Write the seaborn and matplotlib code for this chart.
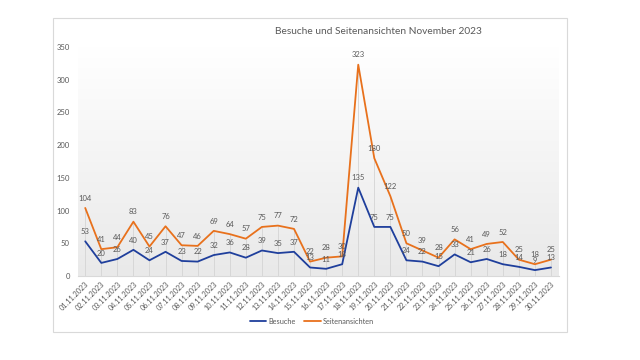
import matplotlib
matplotlib.use("Agg")
import matplotlib.pyplot as plt
import numpy as np
import pandas as pd
import seaborn as sns
from matplotlib.patches import Rectangle
from matplotlib.lines import Line2D

dates = [f"{d:02d}.11.2023" for d in range(1, 31)]
besuche = [53, 20, 26, 40, 24, 37, 23, 22, 32, 36, 28, 39, 35, 37, 13,
           11, 18, 135, 75, 75, 24, 22, 15, 33, 21, 26, 18, 14, 9, 13]
seiten = [104, 41, 44, 83, 45, 76, 47, 46, 69, 64, 57, 75, 77, 72, 22,
          28, 30, 323, 180, 122, 50, 39, 28, 56, 41, 49, 52, 25, 18, 25]
series_names = ["Besuche", "Seitenansichten"]
colors = ["#1f3f9c", "#e8711c"]

df = pd.DataFrame({
    "x": list(range(len(dates))) * 2,
    "wert": besuche + seiten,
    "serie": [series_names[0]] * len(dates) + [series_names[1]] * len(dates),
})

sns.set_style("white")
plt.rcParams["font.family"] = ["Lato", "DejaVu Sans"]

fig = plt.figure(figsize=(6.4, 3.6), dpi=100)
fig.patch.set_facecolor("white")

# outer chart frame
fig.patches.append(Rectangle((53 / 640, 1 - 332 / 360), 514 / 640, 314 / 360,
                             transform=fig.transFigure, fill=False,
                             edgecolor="#d9d9d9", linewidth=0.8))

ax = fig.add_axes([78 / 640, 1 - 276 / 360, 481 / 640, 229 / 360])
ax.set_xlim(-0.45, len(dates) - 0.5)
ax.set_ylim(0, 350)

# gradient background of plot area
grad = np.linspace(0, 1, 256).reshape(-1, 1)
ax.imshow(grad, extent=[-0.45, len(dates) - 0.5, 0, 350], aspect="auto",
          cmap=matplotlib.colors.LinearSegmentedColormap.from_list("g", ["#e9e9e9", "#ffffff"]),
          origin="lower", zorder=0)

# drop lines
tops = np.maximum(besuche, seiten)
ax.vlines(range(len(dates)), 0, tops, color="#d4d4d4", linewidth=0.6, zorder=1)

sns.lineplot(data=df, x="x", y="wert", hue="serie", palette=colors,
             linewidth=1.3, legend=False, ax=ax, zorder=3)

for vals in (besuche, seiten):
    for i, v in enumerate(vals):
        ax.annotate(str(v), (i, v), xytext=(0, 7), textcoords="offset points",
                    ha="center", va="center", fontsize=5.5, color="#595959", zorder=4)

ax.set_xticks(range(len(dates)))
ax.set_xticklabels(dates, rotation=45, ha="right", rotation_mode="anchor",
                   fontsize=5.2, color="#595959")
ax.set_yticks(range(0, 351, 50))
ax.tick_params(axis="y", labelsize=5.5, labelcolor="#595959", length=0, pad=6)
ax.tick_params(axis="x", length=0, pad=3)
ax.set_xlabel("")
ax.set_ylabel("")
for s in ["top", "right", "left"]:
    ax.spines[s].set_visible(False)
ax.spines["bottom"].set_color("#d9d9d9")
ax.spines["bottom"].set_linewidth(0.8)

fig.text(378 / 640, 1 - 32 / 360, "Besuche und Seitenansichten November 2023",
         ha="center", va="center", fontsize=7.3, color="#595959")

handles = [Line2D([0], [0], color=c, linewidth=1.3) for c in colors]
fig.legend(handles, series_names, loc="center", bbox_to_anchor=(312 / 640, 1 - 321 / 360),
           ncol=2, frameon=False, fontsize=5.3, labelcolor="#595959",
           handlelength=2.2, handletextpad=0.3, columnspacing=1.2)

fig.savefig("out.png", dpi=100, facecolor="white")
